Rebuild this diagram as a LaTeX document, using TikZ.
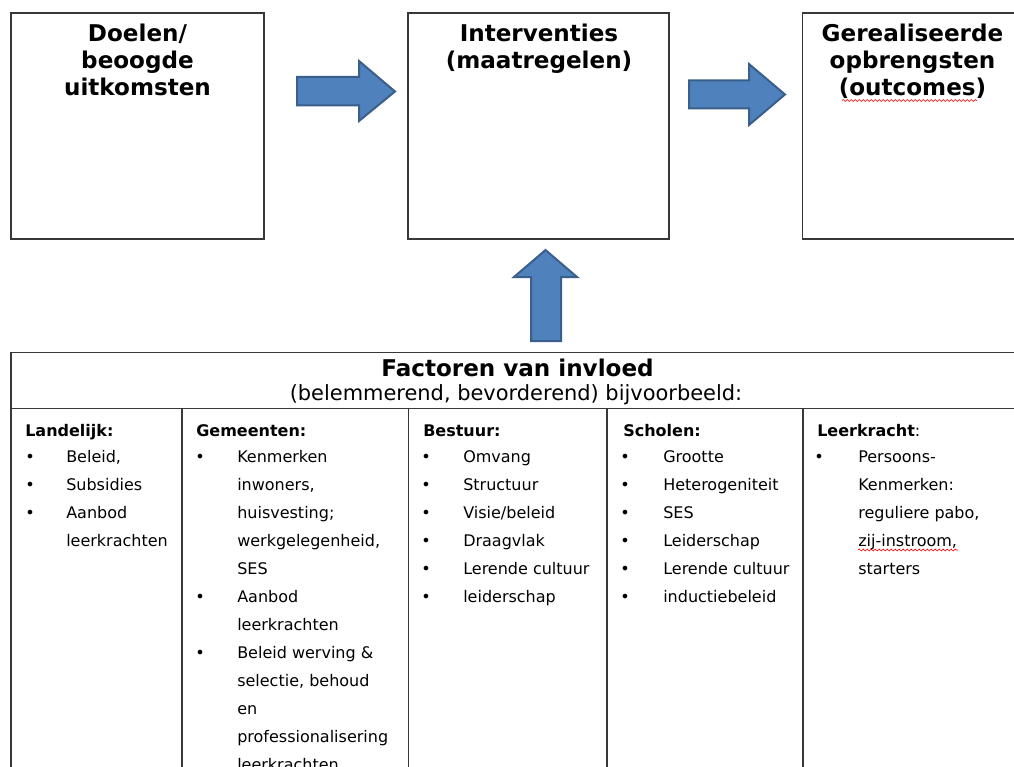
\documentclass[tikz,border=0pt]{standalone}
\usepackage{fontspec}
\setmainfont{DejaVu Sans}
\usetikzlibrary{decorations.pathmorphing}
\definecolor{arrowfill}{HTML}{4F81BD}
\definecolor{arrowline}{HTML}{3A5F8B}
\definecolor{frame}{HTML}{383838}
\begin{document}
\begin{tikzpicture}[x=0.75pt,y=-0.75pt,
  box/.style={draw=frame, line width=1pt},
  blockarrow/.style={fill=arrowfill, draw=arrowline, line width=1.5pt, line join=miter},
  title/.style={font=\fontsize{17.3}{20}\selectfont\bfseries, anchor=base, inner sep=0pt},
  sub/.style={font=\fontsize{15.7}{18}\selectfont, anchor=base, inner sep=0pt},
  body/.style={font=\fontsize{12}{14}\selectfont, anchor=base west, inner sep=0pt},
  head/.style={font=\fontsize{12}{14}\selectfont\bfseries, anchor=base west, inner sep=0pt},
  bul/.style={font=\fontsize{12}{14}\selectfont, anchor=base, inner sep=0pt},
  grid/.style={draw=frame, line width=1.2pt},
  spell/.style={draw=red, line width=0.5pt, decorate, decoration={snake, amplitude=0.7pt, segment length=3pt}}]
\useasboundingbox (0,0) rectangle (1014,767);
\clip (0,0) rectangle (1014,767);
\fill[white] (0,0) rectangle (1014,767);

% top boxes
\draw[box] (11,13) rectangle (264,239);
\draw[box] (408,13) rectangle (669,239);
\draw[box] (802.5,13) rectangle (1023,239);

\node[title] (t1a) at (137.5,42) {Doelen/};
\node[title] (t1b) at (137.5,69) {beoogde};
\node[title] (t1c) at (137.5,96) {uitkomsten};
\node[title] (t2a) at (539,42) {Interventies};
\node[title] (t2b) at (539,69) {(maatregelen)};
\node[title] (t3a) at (912.5,42) {Gerealiseerde};
\node[title] (t3b) at (912.5,69) {opbrengsten};
\node[title] (t3c) at (912.5,96) {(outcomes)};
\draw[spell] (842,100.5) -- (977,100.5);

% block arrows
\draw[blockarrow] (297,77) -- (359,77) -- (359,61) -- (395,91.5) -- (359,121) -- (359,105.5) -- (297,105.5) -- cycle;
\draw[blockarrow] (689,80.5) -- (749,80.5) -- (749,64) -- (785,94.5) -- (749,125) -- (749,108.5) -- (689,108.5) -- cycle;
\draw[blockarrow] (531,341) -- (531,277) -- (514,277) -- (545.5,250) -- (577,277) -- (561,277) -- (561,341) -- cycle;

% table
\draw[grid] (11,780) -- (11,352.3) -- (1030,352.3);
\draw[grid] (11,408.3) -- (1030,408.3);
\foreach \cx in {182,408.3,606.7,802.7} \draw[grid] (\cx,408.3) -- (\cx,780);

\node[title] (fac) at (517.5,376) {Factoren van invloed};
\node[sub] (bel) at (516,400.5) {(belemmerend, bevorderend) bijvoorbeeld:};

% column 1
\node[head] (h1) at (25,436) {Landelijk:};
\foreach \t [count=\i] in {{Beleid,},{Subsidies},{Aanbod},{leerkrachten}}
  \node[body] (a\i) at (66,434.5+28*\i) {\t};
\foreach \r in {1,2,3} \node[bul] (ab\r) at (30,434.5+28*\r) {•};

% column 2
\node[head] (h2) at (196,436) {Gemeenten:};
\foreach \t [count=\i] in {{Kenmerken},{inwoners,},{huisvesting;},{werkgelegenheid,},{SES},{Aanbod},{leerkrachten},{Beleid werving \&},{selectie, behoud},{en},{professionalisering},{leerkrachten}}
  \node[body] (b\i) at (237,434.5+28*\i) {\t};
\foreach \r in {1,6,8} \node[bul] (bb\r) at (200,434.5+28*\r) {•};

% column 3
\node[head] (h3) at (423,436) {Bestuur:};
\foreach \t [count=\i] in {{Omvang},{Structuur},{Visie/beleid},{Draagvlak},{Lerende cultuur},{leiderschap}}
  \node[body] (c\i) at (463,434.5+28*\i) {\t};
\foreach \r in {1,...,6} \node[bul] (cb\r) at (426,434.5+28*\r) {•};

% column 4
\node[head] (h4) at (623,436) {Scholen:};
\foreach \t [count=\i] in {{Grootte},{Heterogeniteit},{SES},{Leiderschap},{Lerende cultuur},{inductiebeleid}}
  \node[body] (d\i) at (663,434.5+28*\i) {\t};
\foreach \r in {1,...,6} \node[bul] (db\r) at (625,434.5+28*\r) {•};

% column 5
\node[head] (h5) at (817,436) {Leerkracht\mdseries:};
\foreach \t [count=\i] in {{Persoons-},{Kenmerken:},{reguliere pabo,},{zij-instroom,},{starters}}
  \node[body] (e\i) at (858,434.5+28*\i) {\t};
\node[bul] (eb1) at (819,462.5) {•};
\draw[spell] (858,550) -- (958,550);
\end{tikzpicture}
\end{document}
